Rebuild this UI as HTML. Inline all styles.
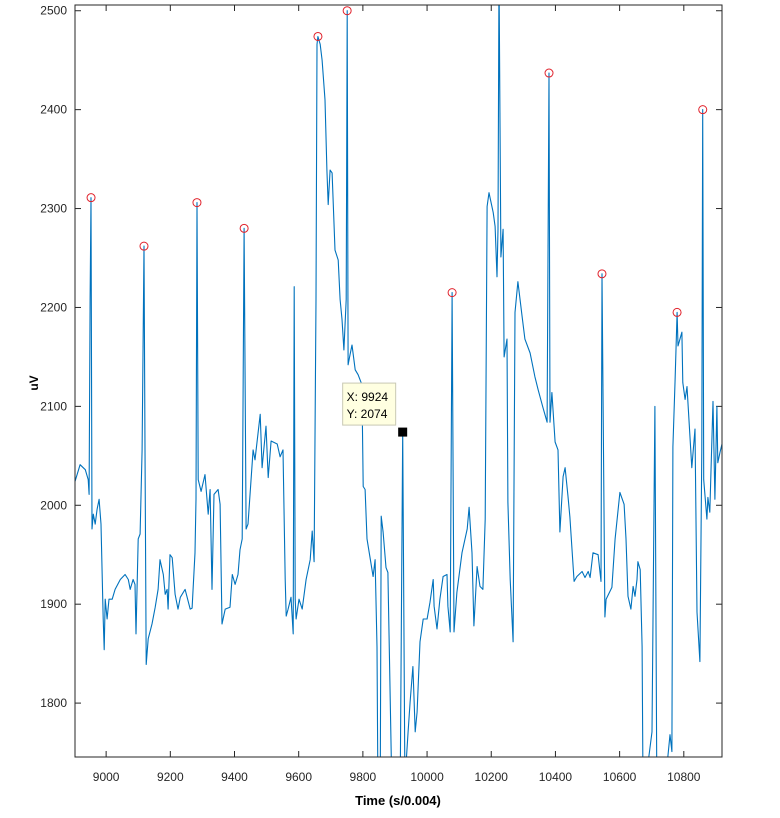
<!DOCTYPE html>
<html><head><meta charset="utf-8"><style>
html,body{margin:0;padding:0;background:#fff;}
svg{display:block;font-family:"Liberation Sans",Arial,sans-serif;}
</style></head><body>
<svg id="chart" width="780" height="818" viewBox="0 0 780 818">
<defs><clipPath id="clip"><rect x="75" y="5" width="647" height="752"/></clipPath></defs>
<rect x="0" y="0" width="780" height="818" fill="#fff"/>
<g id="grid-ticks"></g>
<g id="plot" clip-path="url(#clip)"></g>
<rect x="75" y="5" width="647" height="752" fill="none" stroke="#262626" stroke-width="1"/>
<text x="398" y="805" text-anchor="middle" font-size="13" font-weight="bold" fill="#000">Time (s/0.004)</text>
<text transform="translate(38,383) rotate(-90)" text-anchor="middle" font-size="12" font-weight="bold" fill="#000">uV</text>
<g id="tip"></g>
</svg>
<script>
const timeVals=[8903,8919,8935,8944,8947,8950,8953,8956,8960,8966,8972,8978,8984,8991,8994,8997,9003,9009,9019,9028,9044,9059,9069,9075,9084,9090,9093,9100,9106,9112,9118,9121,9125,9131,9143,9153,9162,9168,9178,9184,9190,9193,9199,9206,9215,9224,9231,9246,9262,9268,9277,9280,9283,9287,9296,9308,9318,9324,9330,9336,9349,9355,9361,9371,9386,9393,9402,9411,9417,9424,9430,9436,9442,9458,9464,9480,9486,9498,9505,9514,9533,9542,9551,9558,9561,9567,9576,9583,9586,9589,9592,9601,9611,9623,9636,9642,9648,9654,9657,9660,9667,9673,9682,9688,9692,9698,9704,9713,9723,9729,9735,9741,9748,9751,9754,9760,9766,9776,9785,9797,9801,9807,9813,9832,9838,9844,9847,9854,9857,9863,9872,9878,9891,9916,9924,9931,9941,9947,9956,9963,9969,9978,9988,10000,10009,10019,10022,10031,10040,10050,10062,10065,10072,10078,10084,10093,10109,10125,10131,10140,10146,10156,10165,10174,10181,10187,10193,10206,10212,10218,10221,10224,10230,10237,10240,10249,10252,10259,10268,10274,10283,10296,10305,10321,10336,10346,10361,10374,10380,10383,10389,10399,10408,10414,10424,10430,10439,10445,10458,10467,10483,10492,10502,10508,10517,10533,10542,10545,10554,10558,10576,10586,10601,10614,10620,10626,10635,10642,10648,10654,10657,10664,10670,10673,10701,10710,10716,10726,10735,10748,10757,10763,10766,10773,10779,10782,10794,10797,10804,10810,10825,10835,10841,10850,10856,10859,10862,10872,10875,10881,10891,10897,10903,10906,10913,10922];
const uvVals=[2024,2041,2036,2026,2011,2208,2311,1976,1991,1981,1996,2006,1981,1885,1854,1905,1885,1905,1905,1915,1925,1930,1925,1915,1925,1920,1870,1966,1971,2056,2262,2056,1839,1865,1880,1897,1915,1945,1930,1910,1915,1895,1950,1947,1910,1895,1907,1915,1895,1896,1952,2006,2306,2026,2014,2031,1991,2016,1915,2011,2016,2001,1880,1895,1897,1930,1920,1930,1955,1966,2280,1976,1981,2056,2046,2092,2038,2080,2028,2065,2062,2049,2056,1925,1888,1895,1907,1870,2221,1905,1885,1905,1895,1925,1945,1974,1943,2208,2466,2474,2466,2450,2410,2339,2304,2339,2336,2258,2248,2208,2188,2157,2208,2500,2142,2152,2162,2137,2132,2122,2019,2016,1966,1928,1945,1857,1700,1700,1989,1973,1937,1932,1700,1700,2074,1720,1771,1801,1837,1771,1791,1862,1885,1885,1902,1925,1898,1875,1905,1928,1930,1898,1872,2215,1872,1912,1952,1976,1998,1952,1878,1938,1918,1915,1986,2302,2316,2296,2282,2231,2279,2540,2251,2279,2150,2168,2003,1925,1862,2195,2226,2191,2168,2154,2130,2117,2099,2084,2437,2084,2114,2064,2056,1973,2029,2038,2009,1988,1923,1928,1933,1927,1933,1927,1952,1950,1923,2234,1887,1905,1917,1966,2013,2001,1966,1908,1895,1918,1908,1925,1943,1935,1857,1700,1771,2100,1700,1720,1710,1738,1768,1751,2059,2127,2195,2161,2175,2124,2107,2120,2038,2077,1892,1842,2056,2400,2026,1986,2008,1993,2105,2006,2100,2043,2054,2066];
const peakTimes=[8953,9118,9283,9430,9660,9751,10078,10380,10545,10779,10859];
const peakVals=[2311,2262,2306,2280,2474,2500,2215,2437,2234,2195,2400];
const xTicks=[9000,9200,9400,9600,9800,10000,10200,10400,10600,10800];
const yTicks=[1800,1900,2000,2100,2200,2300,2400,2500];
const tipTime=9924, tipVal=2074;

const NS='http://www.w3.org/2000/svg';
const X0=8903,X1=10919,Y0=1745.5,Y1=2505.8;
const L=75,R=722,T=5,B=757;
function sx(t){return L+(t-X0)/(X1-X0)*(R-L);}
function sy(v){return B-(v-Y0)/(Y1-Y0)*(B-T);}
function mk(tag,attrs,parent){const e=document.createElementNS(NS,tag);for(const k in attrs)e.setAttribute(k,attrs[k]);parent.appendChild(e);return e;}

const ticks=document.getElementById('grid-ticks');
xTicks.forEach(t=>{
  const x=sx(t);
  mk('line',{x1:x,y1:B,x2:x,y2:B-6,stroke:'#262626'},ticks);
  mk('line',{x1:x,y1:T,x2:x,y2:T+6,stroke:'#262626'},ticks);
  const tx=mk('text',{x:x,y:B+24,'text-anchor':'middle','font-size':'12',fill:'#262626'},ticks);
  
  
  tx.textContent=t;
});
yTicks.forEach(v=>{
  const y=sy(v);
  mk('line',{x1:L,y1:y,x2:L+6,y2:y,stroke:'#262626'},ticks);
  mk('line',{x1:R,y1:y,x2:R-6,y2:y,stroke:'#262626'},ticks);
  const tx=mk('text',{x:L-8,y:y+4,'text-anchor':'end','font-size':'12',fill:'#262626'},ticks);
  
  
  tx.textContent=v;
});

const plot=document.getElementById('plot');
let d='';
timeVals.forEach((t,i)=>{d+=(i?'L':'M')+sx(t).toFixed(1)+' '+sy(uvVals[i]).toFixed(1);});
const line=mk('path',{d:d,fill:'none',stroke:'#0072BD','stroke-width':'1.1','stroke-linejoin':'round'},plot);


peakTimes.forEach((t,i)=>{
  const c=mk('circle',{cx:sx(t),cy:sy(peakVals[i]),r:4,fill:'none',stroke:'#E0202A','stroke-width':'1'},plot);
  
  
});

const tip=document.getElementById('tip');
const mx=sx(tipTime),my=sy(tipVal);
const sq=mk('rect',{x:mx-4.5,y:my-4.5,width:9,height:9,fill:'#000'},tip);


const box=mk('rect',{x:mx-60,y:my-49,width:53,height:42,fill:'#ffffe1',stroke:'#c8c8b4','stroke-width':'1'},tip);


const t1=mk('text',{x:mx-56,y:my-31,'font-size':'12',fill:'#000'},tip);


t1.textContent='X: '+tipTime;
const t2=mk('text',{x:mx-56,y:my-14,'font-size':'12',fill:'#000'},tip);


t2.textContent='Y: '+tipVal;
</script>
</body></html>
